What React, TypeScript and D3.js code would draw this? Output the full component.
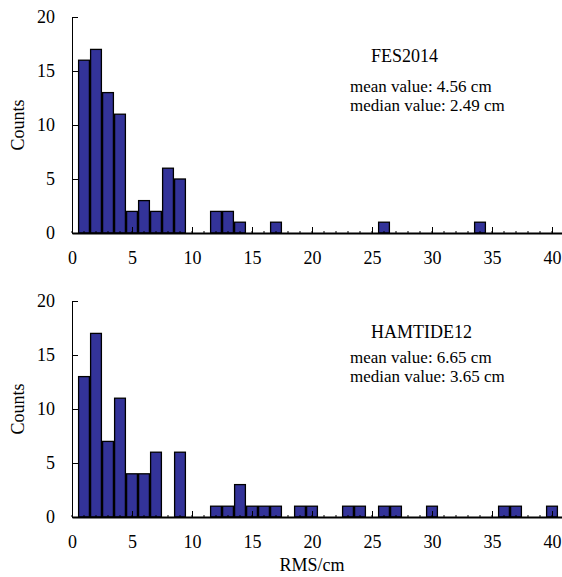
import React, { useEffect, useRef } from "react";
import * as d3 from "d3";

// RMS bins (cm) and counts for each model
const fesBins = [1, 2, 3, 4, 5, 6, 7, 8, 9, 12, 13, 14, 17, 26, 34];
const fesCounts = [16, 17, 13, 11, 2, 3, 2, 6, 5, 2, 2, 1, 1, 1, 1];

const hamBins = [1, 2, 3, 4, 5, 6, 7, 9, 12, 13, 14, 15, 16, 17, 19, 20, 23, 24, 26, 27, 30, 36, 37, 40];
const hamCounts = [13, 17, 7, 11, 4, 4, 6, 6, 1, 1, 3, 1, 1, 1, 1, 1, 1, 1, 1, 1, 1, 1, 1, 1];

const xTicks = [0, 5, 10, 15, 20, 25, 30, 35, 40];
const yTicks = [0, 5, 10, 15, 20];

const panels = [
  { name: "FES2014", bins: fesBins, counts: fesCounts, mean: "mean value: 4.56 cm", median: "median value: 2.49 cm" },
  { name: "HAMTIDE12", bins: hamBins, counts: hamCounts, mean: "mean value: 6.65 cm", median: "median value: 3.65 cm" },
];

const W = 562, H = 577;
const FONT = "'Liberation Serif', 'Times New Roman', serif";

// vertical layout of each panel (plot top/bottom, text baselines)
const layout = [
  { top: 17, bottom: 233, title: 62, mean: 92, median: 111 },
  { top: 301, bottom: 517, title: 338, mean: 363, median: 382 },
];

export default function App() {
  const ref = useRef<SVGSVGElement>(null);

  useEffect(() => {
    const svg = d3.select(ref.current);
    svg.selectAll("*").remove();

    const x = d3.scaleLinear().domain([0, 41]).range([72, 564]);

    panels.forEach((p, i) => {
      const L = layout[i];
      const y = d3.scaleLinear().domain([0, 20]).range([L.bottom, L.top]);
      const g = svg.append("g");

      g.selectAll("rect")
        .data(p.bins)
        .enter()
        .append("rect")
        .attr("x", d => x(d - 0.45))
        .attr("width", x(0.9) - x(0))
        .attr("y", (d, j) => y(p.counts[j]))
        .attr("height", (d, j) => y(0) - y(p.counts[j]))
        .style("fill", "#333399")
        .style("stroke", "#000")
        .style("stroke-width", 1.3);

      // minor ticks
      g.selectAll("line.minor")
        .data(d3.range(0, 41))
        .enter()
        .append("line")
        .attr("x1", d => x(d)).attr("x2", d => x(d))
        .attr("y1", y(0)).attr("y2", y(0) - 2)
        .style("stroke", "#000");

      const xAxis = g.append("g")
        .attr("transform", `translate(0,${y(0)})`)
        .call(d3.axisBottom(x).tickValues(xTicks).tickSizeInner(-6).tickSizeOuter(0).tickPadding(18));
      xAxis.select(".domain").style("stroke-width", 2);
      xAxis.selectAll("text").style("font-family", FONT).style("font-size", "18px").style("fill", "#000");

      const yAxis = g.append("g")
        .attr("transform", `translate(72,0)`)
        .call(d3.axisLeft(y).tickValues(yTicks).tickSizeInner(-6).tickSizeOuter(0).tickPadding(17));
      yAxis.selectAll("text").style("font-family", FONT).style("font-size", "18px").style("fill", "#000");

      g.append("text")
        .attr("transform", `translate(24,${(y(0) + y(20)) / 2}) rotate(-90)`)
        .style("text-anchor", "middle")
        .style("font-family", FONT)
        .style("font-size", "18px")
        .text("Counts");

      g.append("text")
        .attr("x", 371)
        .attr("y", L.title)
        .style("font-family", FONT)
        .style("font-size", "18px")
        .text(p.name);

      g.append("text")
        .attr("x", 350)
        .attr("y", L.mean)
        .style("font-family", FONT)
        .style("font-size", "17px")
        .text(p.mean);

      g.append("text")
        .attr("x", 350)
        .attr("y", L.median)
        .style("font-family", FONT)
        .style("font-size", "17px")
        .text(p.median);
    });

    svg.append("text")
      .attr("x", x(20))
      .attr("y", 571)
      .style("text-anchor", "middle")
      .style("font-family", FONT)
      .style("font-size", "18px")
      .text("RMS/cm");
  }, []);

  return (
    <div style={{ position: "absolute", left: 0, top: 0 }}>
      <svg ref={ref} width={W} height={H} style={{ display: "block", background: "#fff" }}></svg>
    </div>
  );
}
